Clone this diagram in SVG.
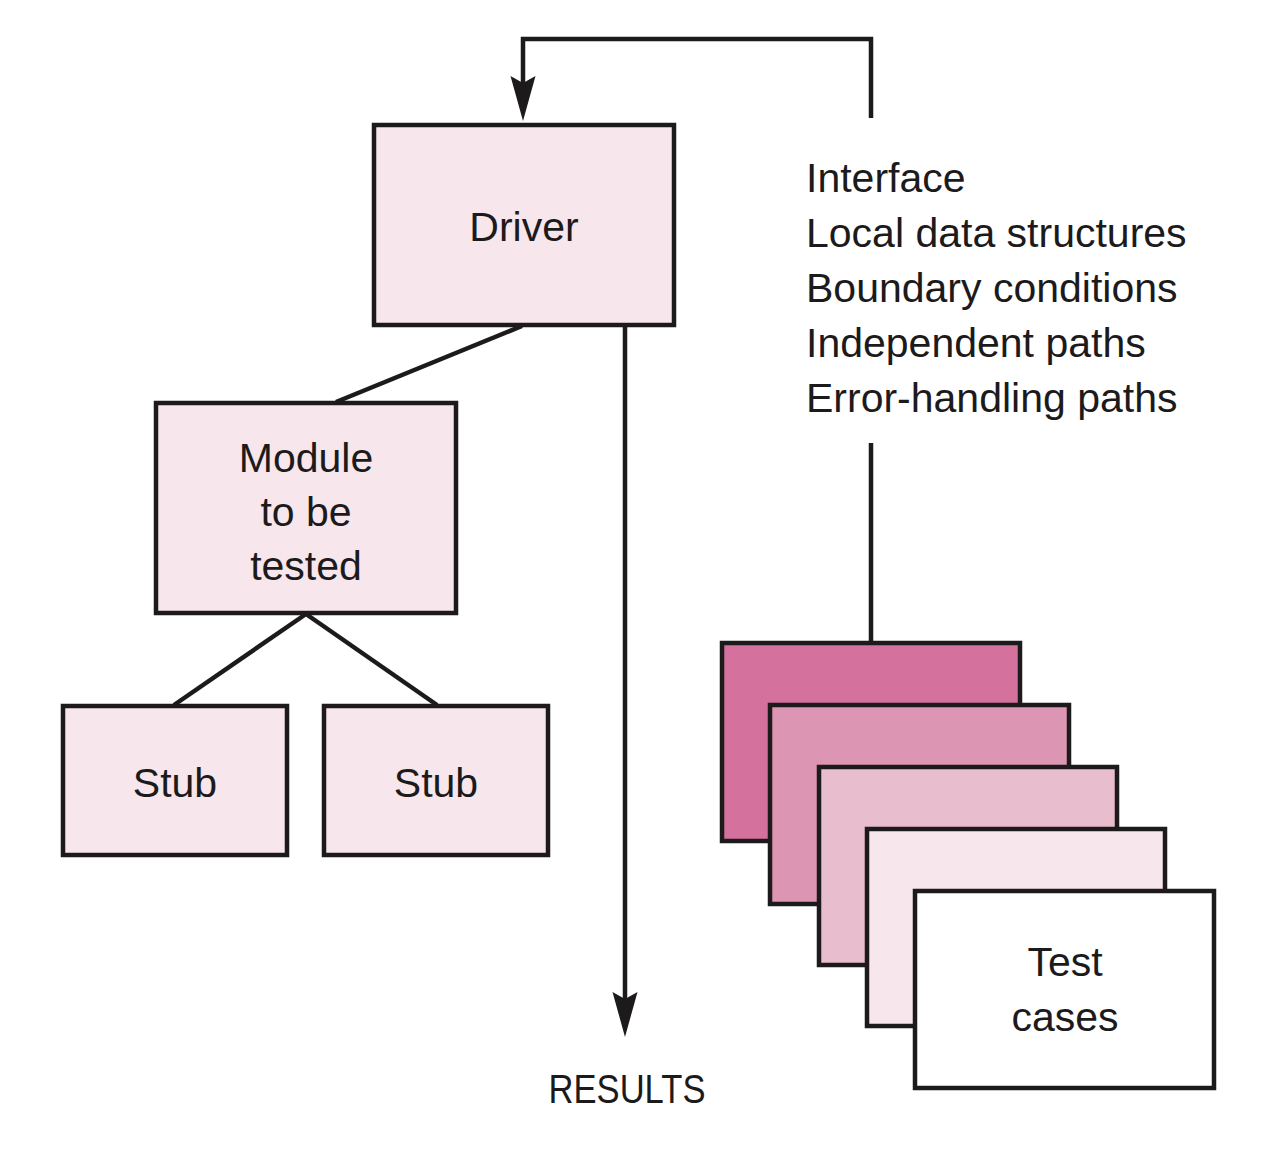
<svg xmlns="http://www.w3.org/2000/svg" width="1272" height="1168" viewBox="0 0 1272 1168">
<style>
.box{fill:#f7e6ec;stroke:#1c1a1b;stroke-width:4.5}
.ln{fill:none;stroke:#1c1a1b;stroke-width:4.5}
.ah{fill:#1c1a1b;stroke:none}
text{font-family:"Liberation Sans","Open Sans",Arial,sans-serif;font-size:41px;fill:#1c1a1b}
.c{text-anchor:middle}
</style>
<rect width="1272" height="1168" fill="#ffffff"/>
<g id="connectors">
<path class="ln" d="M871,118 V39 H523 V84"/>
<path class="ah" d="M523,121 L510.5,76 L523,83 L535.5,76 Z"/>
<path class="ln" d="M522,326 L336,402"/>
<path class="ln" d="M306,614 L174,705"/>
<path class="ln" d="M306,614 L437,705"/>
<path class="ln" d="M625,326 V1000"/>
<path class="ah" d="M625,1037 L612.5,992 L625,999 L637.5,992 Z"/>
<path class="ln" d="M871,443 V642"/>
</g>
<g id="driver">
<rect class="box" x="374" y="125" width="300" height="200"/>
<text class="c" x="524" y="241">Driver</text>
</g>
<g id="module">
<rect class="box" x="156" y="403" width="300" height="210"/>
<text class="c" x="306" y="472">Module</text>
<text class="c" x="306" y="526">to be</text>
<text class="c" x="306" y="580">tested</text>
</g>
<g id="stub1">
<rect class="box" x="63" y="706" width="224" height="149"/>
<text class="c" x="175" y="797">Stub</text>
</g>
<g id="stub2">
<rect class="box" x="324" y="706" width="224" height="149"/>
<text class="c" x="436" y="797">Stub</text>
</g>
<g id="criteria">
<text x="806" y="192">Interface</text>
<text x="806" y="247">Local data structures</text>
<text x="806" y="302">Boundary conditions</text>
<text x="806" y="357">Independent paths</text>
<text x="806" y="412">Error-handling paths</text>
</g>
<g id="results">
<text class="c" x="627" y="1103" textLength="157" lengthAdjust="spacingAndGlyphs">RESULTS</text>
</g>
<g id="test-cases">
<rect x="722" y="643" width="298" height="198" fill="#d4719c" stroke="#1c1a1b" stroke-width="4.5"/>
<rect x="770" y="705" width="299" height="199" fill="#dc95b2" stroke="#1c1a1b" stroke-width="4.5"/>
<rect x="819" y="767" width="298" height="198" fill="#e8bdcd" stroke="#1c1a1b" stroke-width="4.5"/>
<rect x="867" y="829" width="298" height="197" fill="#f7e6ec" stroke="#1c1a1b" stroke-width="4.5"/>
<rect x="915" y="891" width="299" height="197" fill="#ffffff" stroke="#1c1a1b" stroke-width="4.5"/>
<text class="c" x="1065" y="976">Test</text>
<text class="c" x="1065" y="1031">cases</text>
</g>
</svg>
